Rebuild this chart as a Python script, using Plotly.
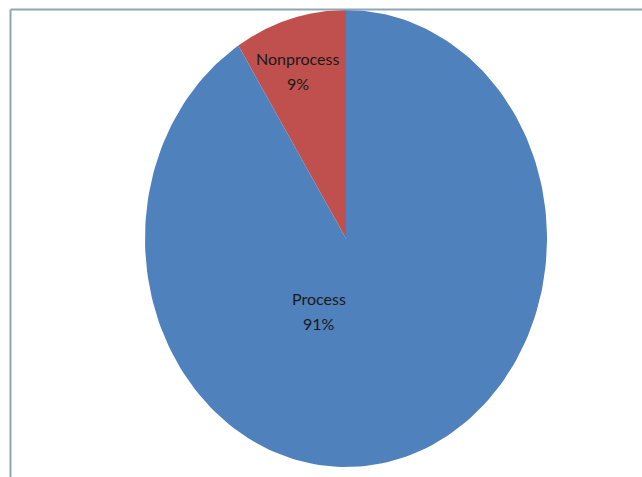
import numpy as np
import plotly.graph_objects as go

# Share of activities
labels = ["Process", "Nonprocess"]
values = [91, 9]
colors = ["#4F81BD", "#C0504D"]

W, H = 642, 477
# pie centre and radii in pixels (the pie is stretched to an ellipse)
cx, cy, rx, ry = 346.0, 238.5, 201.0, 228.5

fig = go.Figure()

total = float(sum(values))
# slices start at 12 o'clock; Nonprocess runs counter-clockwise, Process clockwise
order = [1, 0]
start = 0.0
for i in order:
    frac = values[i] / total
    # counter-clockwise from the top, in fractions of a turn
    t = np.linspace(start, start + frac, 200) * 2 * np.pi
    xs = np.concatenate([[0.0], -np.sin(t), [0.0]])
    ys = np.concatenate([[0.0], np.cos(t), [0.0]])
    fig.add_trace(go.Scatter(
        x=xs, y=ys, mode="lines", fill="toself",
        fillcolor=colors[i], line=dict(width=0, color=colors[i]),
        name=labels[i], hoverinfo="name", showlegend=False,
    ))
    start += frac

# label positions in axis units
label_pos = {"Nonprocess": (-0.239, 0.733), "Process": (-0.134, -0.317)}
font = dict(family="Lato, Open Sans, sans-serif", size=16, color="#1a1a1a")
line_gap = 12.5 / ry
for lab, val in zip(labels, values):
    px, py = label_pos[lab]
    pct = f"{round(100 * val / total)}%"
    fig.add_annotation(x=px, y=py + line_gap, text=lab, showarrow=False, font=font)
    fig.add_annotation(x=px, y=py - line_gap, text=pct, showarrow=False, font=font)

border = "#8FA5B6"
fig.add_shape(type="line", xref="paper", yref="paper",
              x0=10.5 / W, x1=1.05, y0=1 - 9.5 / H, y1=1 - 9.5 / H,
              line=dict(color=border, width=2))
fig.add_shape(type="line", xref="paper", yref="paper",
              x0=10.5 / W, x1=10.5 / W, y0=-0.05, y1=1 - 9.5 / H,
              line=dict(color=border, width=2))

fig.update_xaxes(range=[-cx / rx, (W - cx) / rx], visible=False, fixedrange=True)
fig.update_yaxes(range=[(cy - H) / ry, cy / ry], visible=False, fixedrange=True)
fig.update_layout(
    width=W, height=H, margin=dict(l=0, r=0, t=0, b=0),
    paper_bgcolor="white", plot_bgcolor="white",
)

fig.write_html("out.html", config={"displayModeBar": False})
